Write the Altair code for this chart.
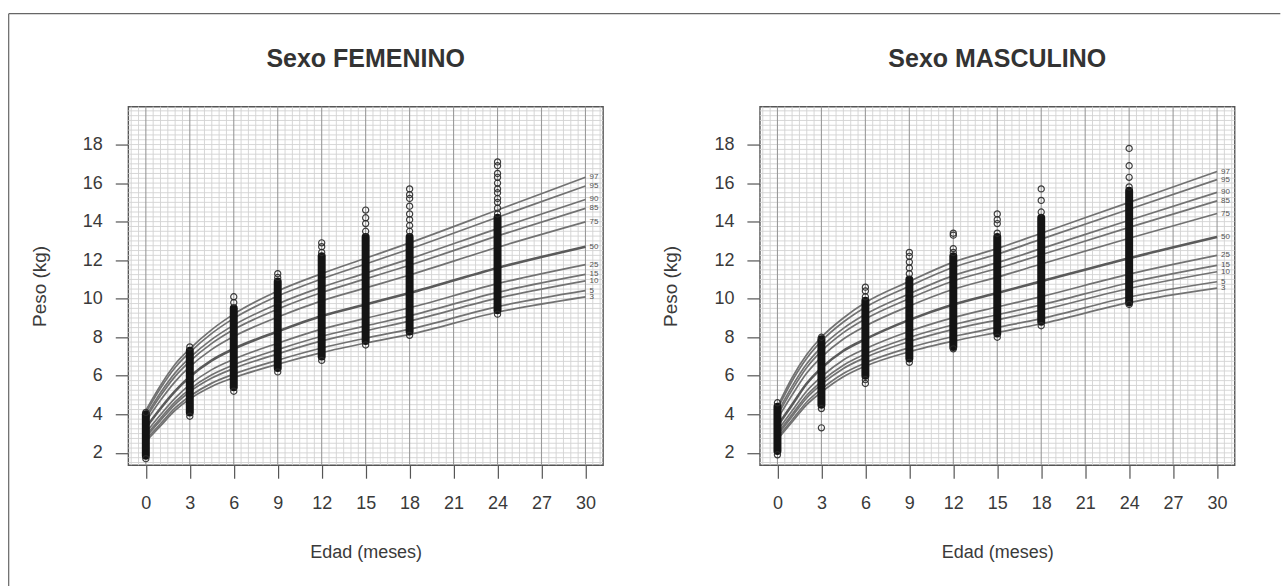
import altair as alt
import pandas as pd
import numpy as np

FONT = "Liberation Sans"

MONTHS = [0, 1, 2, 3, 4.5, 6, 9, 12, 15, 18, 24, 30]
PCTS = ["3", "5", "10", "15", "25", "50", "75", "85", "90", "95", "97"]

# ---- Female percentile curves (kg) ----
FEM = {
    "3":  [2.60, 3.40, 4.20, 4.80, 5.45, 5.90, 6.60, 7.20, 7.70, 8.15, 9.30, 10.10],
    "5":  [2.69, 3.51, 4.33, 4.94, 5.62, 6.09, 6.81, 7.44, 7.95, 8.42, 9.59, 10.42],
    "10": [2.82, 3.69, 4.52, 5.17, 5.88, 6.38, 7.14, 7.81, 8.34, 8.84, 10.03, 10.93],
    "15": [2.91, 3.80, 4.65, 5.31, 6.05, 6.57, 7.36, 8.05, 8.59, 9.11, 10.33, 11.26],
    "25": [3.05, 3.98, 4.84, 5.54, 6.32, 6.86, 7.69, 8.42, 8.98, 9.53, 10.78, 11.77],
    "50": [3.30, 4.30, 5.20, 5.95, 6.80, 7.40, 8.30, 9.10, 9.70, 10.30, 11.60, 12.70],
    "75": [3.62, 4.73, 5.70, 6.47, 7.37, 8.04, 9.05, 9.89, 10.56, 11.23, 12.67, 13.99],
    "85": [3.80, 4.96, 5.97, 6.75, 7.68, 8.40, 9.46, 10.32, 11.03, 11.74, 13.26, 14.69],
    "90": [3.91, 5.12, 6.15, 6.94, 7.89, 8.63, 9.73, 10.60, 11.33, 12.07, 13.64, 15.15],
    "95": [4.09, 5.35, 6.43, 7.22, 8.20, 8.98, 10.14, 11.03, 11.80, 12.58, 14.23, 15.85],
    "97": [4.20, 5.50, 6.60, 7.40, 8.40, 9.20, 10.40, 11.30, 12.10, 12.90, 14.60, 16.30],
}

# ---- Male percentile curves (kg) ----
MAS = {
    "3":  [2.70, 3.60, 4.50, 5.15, 5.95, 6.50, 7.25, 7.80, 8.25, 8.70, 9.80, 10.55],
    "5":  [2.79, 3.71, 4.64, 5.31, 6.12, 6.67, 7.46, 8.04, 8.51, 8.97, 10.09, 10.88],
    "10": [2.92, 3.89, 4.85, 5.55, 6.38, 6.95, 7.78, 8.41, 8.90, 9.40, 10.53, 11.40],
    "15": [3.01, 4.00, 4.99, 5.71, 6.55, 7.13, 7.99, 8.65, 9.17, 9.68, 10.83, 11.73],
    "25": [3.15, 4.18, 5.21, 5.95, 6.82, 7.40, 8.31, 9.02, 9.57, 10.11, 11.28, 12.25],
    "50": [3.40, 4.50, 5.60, 6.40, 7.30, 7.90, 8.90, 9.70, 10.30, 10.90, 12.10, 13.20],
    "75": [3.76, 5.00, 6.14, 6.97, 7.91, 8.58, 9.62, 10.49, 11.12, 11.80, 13.14, 14.42],
    "85": [3.95, 5.27, 6.43, 7.28, 8.24, 8.95, 10.01, 10.92, 11.57, 12.28, 13.70, 15.08],
    "90": [4.08, 5.45, 6.62, 7.49, 8.46, 9.19, 10.26, 11.20, 11.87, 12.60, 14.07, 15.52],
    "95": [4.28, 5.73, 6.91, 7.80, 8.79, 9.56, 10.65, 11.63, 12.31, 13.09, 14.64, 16.18],
    "97": [4.40, 5.90, 7.10, 8.00, 9.00, 9.80, 10.90, 11.90, 12.60, 13.40, 15.00, 16.60],
}

# ---- Observations: dense columns (overlapping circles) and separate circles ----
VISIT_MONTHS = [0, 3, 6, 9, 12, 15, 18, 24]
FEM_DENSE_LO = [1.85, 4.1, 5.4, 6.4, 7.0, 7.8, 8.3, 9.4]
FEM_DENSE_HI = [4.0, 7.3, 9.5, 10.9, 12.2, 13.2, 13.2, 14.2]
FEM_OUT_M = [0, 0, 3, 3, 6, 6, 6, 9, 9, 9, 12, 12, 12, 12,
             15, 15, 15, 15, 15, 18, 18, 18, 18, 18, 18, 18, 18, 18,
             24, 24, 24, 24, 24, 24, 24, 24, 24, 24, 24, 24]
FEM_OUT_V = [1.7, 4.1, 3.9, 7.5, 5.2, 9.8, 10.1, 6.2, 11.1, 11.3, 6.8, 12.4, 12.7, 12.9,
             7.6, 13.5, 13.9, 14.2, 14.6, 8.1, 13.5, 13.8, 14.1, 14.4, 14.8, 15.2, 15.4, 15.7,
             9.2, 14.4, 14.7, 15.0, 15.2, 15.5, 15.7, 16.0, 16.3, 16.5, 16.9, 17.1]

MAS_DENSE_LO = [2.1, 4.5, 6.0, 6.9, 7.5, 8.2, 8.8, 9.8]
MAS_DENSE_HI = [4.4, 7.9, 9.9, 11.0, 12.2, 13.2, 14.2, 15.6]
MAS_OUT_M = [0, 0, 3, 3, 3, 6, 6, 6, 6, 6, 9, 9, 9, 9, 9, 9,
             12, 12, 12, 12, 12, 15, 15, 15, 15, 15, 18, 18, 18, 18,
             24, 24, 24, 24, 24]
MAS_OUT_V = [1.9, 4.6, 3.3, 4.3, 8.0, 5.6, 5.8, 10.1, 10.4, 10.6, 6.7, 11.3, 11.6, 11.9, 12.2, 12.4,
             7.4, 12.4, 12.6, 13.3, 13.4, 8.0, 13.4, 13.9, 14.1, 14.4, 8.6, 14.5, 15.1, 15.7,
             9.7, 15.8, 16.3, 16.9, 17.8]

X_TICKS = list(range(0, 31, 3))
Y_TICKS = list(range(2, 19, 2))
GRID_X_MINOR = [v for v in np.arange(-1.0, 31.01, 0.5) if v not in X_TICKS]
GRID_Y_MINOR = list(np.arange(1.5, 19.9, 0.25))

PLOT_W = 475.3
PLOT_H = 359

X_SCALE = alt.Scale(domain=[-1.2, 31.2], nice=False, zero=False)
Y_SCALE = alt.Scale(domain=[1.36, 19.97], nice=False, zero=False)

TXT = "#3a3a3a"
X_AXIS = alt.Axis(values=X_TICKS, title="Edad (meses)", grid=False, domain=False,
                  tickSize=13, tickColor="#555", tickWidth=1.2,
                  labelFont=FONT, labelFontSize=18, labelColor=TXT, labelPadding=16,
                  titleFont=FONT, titleFontSize=18, titleFontWeight="normal",
                  titleColor=TXT, titlePadding=31)
Y_AXIS = alt.Axis(values=Y_TICKS, title="Peso (kg)", grid=False, domain=False,
                  tickSize=13, tickColor="#555", tickWidth=1.2,
                  labelFont=FONT, labelFontSize=18, labelColor=TXT, labelPadding=13,
                  titleFont=FONT, titleFontSize=19, titleFontWeight="normal",
                  titleColor=TXT, titlePadding=33)


def X(field):
    return alt.X(field, type="quantitative", scale=X_SCALE, axis=X_AXIS)


def Y(field):
    return alt.Y(field, type="quantitative", scale=Y_SCALE, axis=Y_AXIS)


def panel(title, curves, dense_lo, dense_hi, out_m, out_v, frame=False):
    rows = []
    for p in PCTS:
        for m, v in zip(MONTHS, curves[p]):
            rows.append({"pct": p, "m": m, "v": v})
    df_c = pd.DataFrame(rows)
    df_lab = pd.DataFrame({"pct": PCTS, "m": [MONTHS[-1]] * len(PCTS),
                           "v": [curves[p][-1] for p in PCTS]})
    df_dense = pd.DataFrame({"m": VISIT_MONTHS, "lo": dense_lo, "hi": dense_hi})
    df_out = pd.DataFrame({"m": out_m, "v": out_v})
    one = pd.DataFrame({"t": [title]})

    gx_minor = alt.Chart(pd.DataFrame({"gx": GRID_X_MINOR})).mark_rule(
        color="#d2d2d2", strokeWidth=0.9).encode(x=X("gx"))
    gy_minor = alt.Chart(pd.DataFrame({"gy": GRID_Y_MINOR})).mark_rule(
        color="#d2d2d2", strokeWidth=0.9).encode(y=Y("gy"))
    gx_major = alt.Chart(pd.DataFrame({"gx": X_TICKS})).mark_rule(
        color="#9a9a9a", strokeWidth=1.1).encode(x=X("gx"))

    lines = alt.Chart(df_c[df_c.pct != "50"]).mark_line(
        interpolate="monotone", color="#727272", strokeWidth=1.7).encode(
        x=X("m"), y=Y("v"), detail="pct:N")
    line50 = alt.Chart(df_c[df_c.pct == "50"]).mark_line(
        interpolate="monotone", color="#5a5a5a", strokeWidth=2.6).encode(
        x=X("m"), y=Y("v"))

    dense = alt.Chart(df_dense).mark_rule(
        color="#141414", strokeWidth=8, strokeCap="round").encode(
        x=X("m"), y=Y("lo"), y2="hi")
    pts = alt.Chart(df_out).mark_point(
        shape="circle", filled=False, size=38, color="#2a2a2a", strokeWidth=1.2,
        opacity=0.9).encode(x=X("m"), y=Y("v"))

    labs = alt.Chart(df_lab).mark_text(
        align="left", baseline="middle", dx=4, fontSize=8, font=FONT,
        color="#555").encode(x=X("m"), y=Y("v"), text="pct:N")

    ttl = alt.Chart(one).mark_text(
        font=FONT, fontSize=25, fontWeight="bold", color="#333",
        align="center", baseline="middle").encode(
        x=alt.value(PLOT_W / 2), y=alt.value(-48), text="t:N")

    layers = [gx_minor, gy_minor, gx_major, lines, line50, dense, pts, labs, ttl]
    if frame:
        f_top = alt.Chart(pd.DataFrame({"a": [0]})).mark_rule(
            color="#666", strokeWidth=1.2).encode(
            x=alt.value(-119.7), x2=alt.value(1153.3), y=alt.value(-93))
        f_left = alt.Chart(pd.DataFrame({"a": [0]})).mark_rule(
            color="#666", strokeWidth=1.2).encode(
            x=alt.value(-119.7), y=alt.value(-93), y2=alt.value(480))
        layers += [f_top, f_left]

    return alt.layer(*layers).properties(width=PLOT_W, height=PLOT_H)


left = panel("Sexo FEMENINO", FEM, FEM_DENSE_LO, FEM_DENSE_HI, FEM_OUT_M, FEM_OUT_V, frame=True)
right = panel("Sexo MASCULINO", MAS, MAS_DENSE_LO, MAS_DENSE_HI, MAS_OUT_M, MAS_OUT_V)

chart = alt.hconcat(left, right, spacing=156.3, bounds="flush").properties(
    padding={"left": 7.4, "top": 11.4, "right": 0, "bottom": 0},
    background="white",
).configure_view(stroke="#555", strokeWidth=1.4, fill="white")

chart.save("out.html", embed_options={"renderer": "svg", "actions": False})
